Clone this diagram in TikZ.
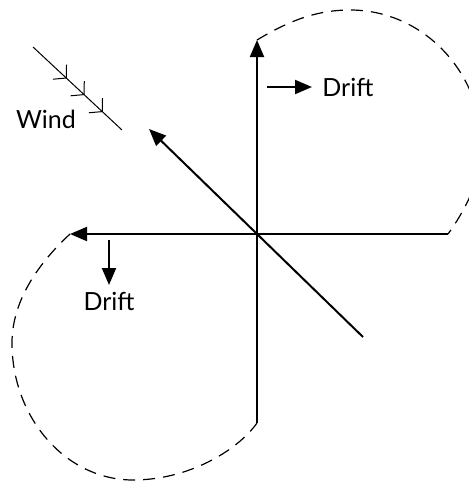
\documentclass[tikz,border=0pt]{standalone}
\usepackage{fontspec}
\setmainfont{Lato}
\usepackage{tikz}
\usetikzlibrary{
  arrows.meta,           % Triangle and barb tips
  decorations.markings   % Chevrons along the wind line
}

\begin{document}
\begin{tikzpicture}[x=0.5pt, y=-0.5pt,
    axis/.style={line width=1pt},
    tip/.style={-{Triangle[length=8.5pt, width=7pt]}},
    track/.style={line width=0.6pt, dash pattern=on 6pt off 4pt},
    windline/.style={line width=0.5pt, postaction={decorate},
      decoration={markings,
        mark=at position 0.38 with {\arrow{Straight Barb[length=4.5pt, width=10pt]}},
        mark=at position 0.58 with {\arrow{Straight Barb[length=4.5pt, width=10pt]}},
        mark=at position 0.785 with {\arrow{Straight Barb[length=4.5pt, width=10pt]}}}},
    lbl/.style={font=\fontsize{12.5}{15}\selectfont, inner sep=0pt}]
          \useasboundingbox (0,0) rectangle (469,482);
          \clip (0,0) rectangle (469,482);
          \coordinate (O) at (257,234);      % crossing point
          \coordinate (N_tip) at (257,40);   % arrow up
          \coordinate (S_end) at (257,423);
          \coordinate (W_tip) at (70,234);   % arrow left
          \coordinate (E_end) at (448,234);
          \coordinate (NW_tip) at (149,129); % arrow into the wind
          \coordinate (SE_end) at (363,337);
          \coordinate (wind_a) at (33,47);
          \coordinate (wind_b) at (122,130);
          \coordinate (dr_a) at (267,87);
          \coordinate (dr_b) at (312,87);
          \coordinate (db_a) at (109,240);
          \coordinate (db_b) at (109,285);
          % axes
          \draw[axis, tip] (S_end) -- (N_tip);
          \draw[axis, tip] (E_end) -- (W_tip);
          \draw[axis, tip] (SE_end) -- (NW_tip);
          % wind
          \draw[windline] (wind_a) -- (wind_b);
          \node[lbl] (wind_lbl) at (46,119) {Wind};
          % drift
          \draw[axis, tip] (dr_a) -- (dr_b);
          \node[lbl, anchor=west] (drift_r) at (322,87) {Drift};
          \draw[axis, tip] (db_a) -- (db_b);
          \node[lbl, anchor=north] (drift_b) at (109,292) {Drift};
          % dashed turns
          \draw[track] (N_tip) .. controls (287,22) and (315,10) .. (350,10)
            .. controls (423,10) and (482,72) .. (482,148)
            .. controls (482,180) and (462,215) .. (E_end);
          \draw[track] (W_tip) .. controls (42,260) and (12,298) .. (12,343)
            .. controls (12,418) and (66,480) .. (133,480)
            .. controls (188,480) and (237,451) .. (S_end);
        \end{tikzpicture}
\end{document}
